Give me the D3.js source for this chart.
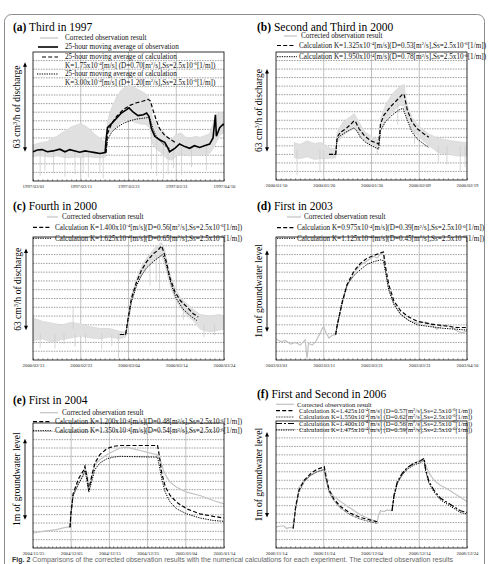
<!DOCTYPE html>
<html>
<head>
<meta charset="utf-8">
<script src="https://cdn.jsdelivr.net/npm/d3@7"></script>
<style>
  body { margin: 0; background: #fff; }
  svg { display: block; font-family: "Liberation Serif", "Times New Roman", serif; }
</style>
</head>
<body>
<svg id="fig" width="488" height="564"></svg>
<script>
// values are in grid divisions above the bottom frame, t in days after the first tick

// (a) Third in 1997
const aTicks = ["1997/03/01", "1997/03/11", "1997/03/21", "1997/03/31", "1997/04/10"];
const aObsBand = [[0,2.8,4.2],[1,2.9,4.4],[2,2.9,4.5],[3,2.8,4.6],[4,2.8,5.0],[5,2.9,5.2],[6,2.8,5.6],[7,2.7,5.9],[8,2.7,6.3],[9,2.8,6.5],[10,2.7,6.7],[11,2.8,6.4],[12,2.8,6.0],[13,2.7,5.4],[14,2.7,5.0],[15.2,2.8,4.5],[15.6,5.4,7.0],[16.5,5.8,8.6],[17.5,6.3,9.8],[18.5,6.8,10.6],[19.5,7.2,11.0],[20.5,7.0,11.1],[21.5,6.8,10.8],[22.5,6.6,10.5],[23.5,6.6,10.2],[24.4,6.2,9.6],[25.0,4.3,7.4],[26,3.6,6.4],[27,3.2,6.0],[28,2.6,5.2],[29,2.4,4.9],[30,2.9,5.4],[31,3.1,5.6],[32,3.0,5.1],[33,2.9,5.0],[34,3.0,5.2],[35,3.0,5.1],[36,3.1,5.3],[37,3.2,5.5],[37.8,3.8,6.8],[38.5,4.6,7.8],[39.2,5.4,8.0],[40,5.6,7.9]];
const aObsSpikes = [[1.5,0.6,3.5],[2.5,1.2,3.5],[4.3,0.9,3.5],[6.7,0.5,3.5],[8.8,0.8,3.5],[10.5,1.0,3.5],[11.6,0.4,3.5],[14.0,0.9,3.5],[14.7,0.3,3.5],[24.8,1.4,6],[25.9,0.6,5],[27.3,0.3,4.5],[28.3,0.8,4],[29.4,1.5,4],[31.1,0.7,4],[33.2,1.6,4],[36.3,1.2,4]];
const aObsAvg = [[0,3.4],[0.9,3.6],[1.9,3.65],[3.0,3.4],[4.2,3.5],[5.6,3.7],[6.7,3.4],[7.7,3.65],[8.8,3.5],[9.8,3.35],[10.9,3.5],[11.9,3.4],[13.0,3.3],[14.0,3.2],[15.1,3.3],[15.3,4.8],[15.6,6.2],[16.5,6.7],[17.5,7.3],[18.5,7.9],[19.6,8.3],[20.1,8.5],[21.0,8.0],[22.0,7.6],[23.1,7.7],[23.8,7.9],[24.3,7.5],[24.8,6.1],[25.5,5.2],[26.5,4.8],[27.6,4.5],[28.3,3.8],[28.6,3.4],[29.7,3.8],[30.7,4.3],[31.8,4.0],[32.8,3.8],[33.8,4.1],[34.9,3.9],[35.9,4.1],[37.0,4.3],[37.7,5.0],[38.2,7.7],[38.4,5.2],[39.1,6.2],[39.8,6.6],[40,6.5]];
const aCalc175 = [[15.3,3.3],[15.6,5.5],[16.5,6.7],[17.5,7.5],[18.9,8.3],[20.3,8.8],[21.7,9.1],[23.1,9.3],[24.1,9.5],[24.6,9.3],[25.1,8.3],[25.8,7.1],[26.5,6.1],[27.6,5.3],[28.6,4.9],[29.7,4.5]];
const aCalc300 = [[15.3,3.3],[15.6,4.8],[16.5,5.7],[17.5,6.2],[18.9,6.7],[20.3,7.0],[21.7,7.2],[23.1,7.3],[24.3,7.4],[24.6,7.1],[25.1,6.1],[25.8,5.2],[26.9,4.5],[27.9,4.0],[28.6,3.8]];

// (b) Second and Third in 2000
const bTicks = ["2000/01/10", "2000/01/20", "2000/01/30", "2000/02/09", "2000/02/19"];
const bObsBand = [[3.8,2.6,4.4],[5,2.5,4.2],[6.5,2.7,4.6],[8,2.4,4.3],[9.5,2.5,4.4],[11,2.5,3.8],[12.5,2.6,3.6],[12.8,4.4,5.6],[14,5.2,6.8],[15.5,5.8,7.4],[16.4,6.0,7.8],[17.4,5.4,6.8],[18.5,4.6,5.7],[20,4.0,5.1],[21.5,3.7,4.7],[21.9,5.8,7.2],[23,7.0,8.9],[24.5,8.0,10.2],[26,8.8,11.0],[26.8,8.6,11.2],[27.5,7.2,8.8],[28.5,5.8,7.3],[30,5.0,6.3],[32,4.0,5.4],[34,3.2,4.9],[36,3.0,4.7],[38,2.8,4.5],[40,2.8,4.4]];
const bObsSpikes = [[4.4,0.6,3.5],[9.2,0.9,3.5],[10.0,1.2,3.5],[21.2,3.0,4.5],[25.5,6.5,9],[29,4.2,6],[34,2.0,4],[35.8,1.8,4],[38.6,1.0,4],[39.6,1.5,4]];
const bCalc1325 = [[11.1,3.0],[12.5,3.0],[12.8,5.0],[13.5,5.6],[14.6,6.0],[15.6,6.5],[16.3,6.9],[16.6,6.9],[17.4,6.0],[18.5,5.2],[19.8,4.6],[21.2,4.3],[21.5,4.2],[21.9,6.6],[22.6,7.6],[24.0,8.6],[25.4,9.4],[26.4,10.0],[26.8,10.1],[27.5,8.2],[28.5,6.8],[29.6,6.0],[31.0,5.4],[32.0,5.0]];
const bCalc1950 = [[11.1,3.0],[12.5,3.0],[12.8,4.8],[13.5,5.2],[14.6,5.6],[15.6,5.9],[16.3,6.1],[16.9,5.8],[17.7,5.0],[18.8,4.4],[20.1,4.0],[21.5,3.6],[21.9,5.8],[22.9,6.8],[24.3,7.6],[25.7,8.2],[26.6,8.4],[27.5,7.0],[28.5,5.6],[29.6,4.8],[31.0,4.2],[32.0,3.8]];

// (c) Fourth in 2000
const cTicks = ["2000/02/13", "2000/02/23", "2000/03/04", "2000/03/14", "2000/03/24"];
const cObsBand = [[0,2.2,4.8],[2,2.4,4.4],[4,2.0,4.2],[6,2.3,4.0],[8,2.5,4.3],[10,2.7,4.1],[12,2.5,3.8],[14,2.4,3.6],[16,2.6,3.6],[18,2.4,3.3],[19.4,2.6,3.2],[20.0,4.0,5.2],[20.6,6.5,7.4],[21.7,8.4,9.3],[22.7,9.7,10.6],[23.8,10.6,11.6],[25.2,11.3,12.6],[26.2,11.6,13.1],[26.9,11.8,13.4],[27.5,11.0,12.8],[28.0,10.0,11.5],[28.7,8.5,9.8],[29.7,7.0,8.3],[30.8,6.0,7.2],[32,5.2,6.5],[33.5,4.5,5.8],[35,3.5,5.2],[37,3.2,5.0],[39,3.4,5.2],[40,3.5,5.0]];
const cObsSpikes = [[1.5,1.4,3],[4.6,1.3,3],[6.5,1.8,3],[8.4,3.5,6.1],[8.8,1.5,3],[11,2.0,3],[14.4,1.2,3],[16.5,1.6,3],[17.9,0.2,3],[24.5,8.5,11],[25.8,9.0,12],[26.5,7.8,12],[31.5,4.6,6],[35.8,2.6,4],[38,2.8,4]];
const cCalc1400 = [[18.2,2.9],[19.4,2.9],[19.9,4.7],[20.6,7.0],[21.7,8.9],[22.7,10.2],[23.8,11.2],[25.2,12.1],[26.2,12.5],[26.9,13.0],[27.4,12.3],[28.0,11.0],[28.7,9.3],[29.7,7.8],[30.8,6.8],[32.1,6.1],[33.5,5.3],[34.6,4.9]];
const cCalc1625 = [[18.2,2.9],[19.4,2.9],[19.9,4.5],[20.6,6.6],[21.7,8.5],[22.7,9.6],[23.8,10.5],[25.2,11.2],[26.6,11.8],[27.1,12.0],[27.6,11.5],[28.3,10.0],[29.0,8.5],[30.0,7.0],[31.4,5.8],[32.8,5.1],[34.3,4.5]];

// (d) First in 2003
const dTicks = ["2003/03/01", "2003/03/11", "2003/03/21", "2003/03/31", "2003/04/10"];
const dObs = [[0,2.4],[1.0,2.1],[2.0,2.2],[3.1,1.8],[4.1,2.0],[5.1,1.7],[6.1,2.3],[6.5,0.2],[6.8,1.9],[7.6,1.7],[8.3,2.1],[9.0,2.8],[9.7,3.6],[10.0,3.8],[10.4,3.2],[11.1,2.5],[11.8,2.8],[12.5,2.9],[12.8,3.8],[13.9,6.6],[14.9,8.4],[16.3,9.9],[17.7,10.8],[19.1,11.3],[20.5,11.8],[21.2,11.6],[21.9,12.1],[22.5,12.0],[22.9,10.3],[23.6,8.1],[24.7,6.4],[26.1,5.2],[27.8,4.5],[29.6,4.2],[31.3,4.3],[32.3,4.1],[33.7,3.5],[35.1,4.0],[36.4,3.9],[37.9,3.3],[38.9,3.1],[40,3.3]];
const dCalc0975 = [[12.5,2.9],[12.8,3.9],[13.9,6.6],[14.9,8.6],[16.3,10.1],[17.7,11.0],[19.1,11.6],[20.5,11.9],[21.9,12.2],[22.5,12.3],[22.9,10.7],[23.6,8.6],[24.7,6.7],[26.1,5.6],[27.8,4.9],[29.6,4.4],[32.3,4.1],[35.1,3.9],[37.9,3.7],[40,3.7]];
const dCalc1125 = [[12.5,2.9],[12.8,3.9],[13.9,6.8],[14.9,8.6],[16.3,9.6],[17.7,10.3],[19.1,10.9],[20.5,11.2],[21.9,11.4],[22.5,11.3],[22.9,10.1],[23.6,8.0],[24.7,6.3],[26.1,5.2],[27.8,4.5],[29.6,4.0],[32.3,3.8],[35.1,3.6],[37.9,3.5],[40,3.4]];

// (e) First in 2004
const eTicks = ["2004/11/25", "2004/12/05", "2004/12/15", "2004/12/25", "2005/01/04", "2005/01/14"];
const eObs = [[0,1.8],[2.6,2.0],[6.1,2.2],[8.8,2.5],[9.7,2.5],[9.9,4.0],[10.5,6.3],[11.9,7.7],[13.2,8.9],[13.6,9.6],[14.2,8.7],[14.7,7.3],[15.3,8.3],[16.2,10.0],[17.5,10.6],[19.3,11.2],[21.0,11.6],[22.8,12.0],[24.5,12.1],[26.3,11.9],[28.0,11.7],[29.8,11.5],[32.4,11.2],[33.3,10.6],[34.1,9.4],[35.0,8.5],[35.9,7.9],[37.6,7.3],[40.2,6.7],[43.7,6.3],[47.2,5.7],[50,5.3]];
const eCalc1200 = [[9.7,2.5],[9.9,4.0],[10.5,6.5],[11.9,8.3],[13.2,9.3],[13.6,9.8],[14.2,8.3],[14.6,6.9],[15.2,8.3],[16.2,10.2],[17.5,11.2],[19.3,11.9],[21.0,12.2],[22.8,12.3],[32.6,12.3],[33.1,11.0],[33.7,9.0],[34.6,7.4],[35.9,6.3],[37.6,5.5],[40.2,4.7],[43.7,4.1],[47.2,3.8],[50,3.6]];
const eCalc1350 = [[9.7,2.5],[9.9,4.0],[10.5,6.3],[11.9,7.7],[13.2,8.7],[13.6,9.3],[14.2,7.9],[14.6,6.7],[15.2,7.7],[16.2,9.4],[17.5,10.2],[19.3,10.7],[21.0,10.9],[22.8,11.0],[32.6,10.9],[33.1,9.8],[33.7,8.3],[34.6,6.7],[35.9,5.5],[37.6,4.7],[40.2,4.1],[43.7,3.6],[47.2,3.3],[50,3.2]];

// (f) First and Second in 2006
const fTicks = ["2006/11/14", "2006/11/24", "2006/12/04", "2006/12/14", "2006/12/24"];
const fObs = [[0,2.5],[1.0,2.6],[1.7,2.6],[2.2,2.3],[2.7,2.4],[3.6,2.4],[4.1,4.8],[4.8,7.1],[5.9,8.0],[7.3,8.6],[8.6,9.0],[9.7,9.2],[10.1,9.3],[10.4,8.2],[11.1,6.8],[12.1,6.1],[13.5,5.5],[15.6,4.7],[17.7,3.9],[19.8,3.4],[21.2,3.1],[21.5,3.9],[21.9,4.4],[22.6,4.3],[23.3,4.5],[24.3,4.4],[24.7,6.2],[25.4,7.8],[26.1,8.4],[27.5,9.5],[28.9,10.0],[30.3,10.4],[31.0,10.5],[31.3,9.9],[32.0,8.9],[33.1,8.0],[34.4,7.4],[35.8,7.0],[37.2,6.5],[38.6,6.0],[40,5.5]];
const fCalc1425 = [[3.6,2.3],[4.1,4.8],[4.8,6.8],[5.9,8.0],[7.3,8.8],[8.6,9.3],[9.7,9.5],[10.1,9.6],[10.4,8.7],[11.1,6.9],[12.1,5.8],[13.5,4.9],[15.6,4.1],[17.7,3.6],[19.8,3.3],[21.2,3.1]];
const fCalc1550 = [[3.6,2.3],[4.1,4.6],[4.8,6.6],[5.9,7.8],[7.3,8.6],[8.6,9.0],[9.7,9.2],[10.1,9.3],[10.4,8.4],[11.1,6.6],[12.1,5.6],[13.5,4.7],[15.6,3.9],[17.7,3.4],[19.8,3.1],[21.2,2.9]];
const fCalc1400 = [[24.3,4.4],[24.7,6.2],[25.4,7.8],[26.4,8.8],[27.5,9.5],[28.9,10.0],[30.3,10.3],[31.0,10.6],[31.3,9.4],[32.0,7.9],[33.1,6.8],[34.4,5.9],[35.8,5.4],[37.2,4.9],[38.6,4.4],[40,4.2]];
const fCalc1475 = [[24.3,4.4],[24.7,6.0],[25.4,7.6],[26.4,8.6],[27.5,9.3],[28.9,9.8],[30.3,10.1],[31.0,10.4],[31.3,9.2],[32.0,7.7],[33.1,6.6],[34.4,5.7],[35.8,5.2],[37.2,4.7],[38.6,4.2],[40,4.0]];

// --- drawing ---
const svg = d3.select("#fig");
const parse = d3.utcParse("%Y/%m/%d");
const fmt = d3.utcFormat("%Y/%m/%d");
const DAY = 864e5;
const SERIF = "'Liberation Serif', 'Times New Roman', serif";

const styles = {
  obs:     { stroke: "#c2c2c2", width: 1.2, dash: null },
  avg:     { stroke: "#000", width: 1.6, dash: null },
  dash:    { stroke: "#000", width: 1.2, dash: "4,2.2" },
  dot:     { stroke: "#000", width: 1.0, dash: "1.3,1.1" },
  fine:    { stroke: "#222", width: 0.9, dash: "0.9,0.7" },
  dashdot: { stroke: "#000", width: 1.2, dash: "6,2,2,2" }
};

const sup = (k, d) => `Calculation K=${k}x10^{-4}[m/s]${d}`;

const panels = [
  { id: "a", name: " Third in 1997", ticks: aTicks, box: [33, 52, 224, 181], n: 15, title: [13, 30.5],
    band: aObsBand, spikes: aObsSpikes,
    series: [[aObsAvg, "avg"], [aCalc175, "dash"], [aCalc300, "dot"]],
    ylab: "63 cm^{3}/h of discharge", arrow: [25, 3.4, 13.8],
    legend: [
      { s: "obs", y: 38, lx: [40, 58], tx: 65, text: ["Corrected observation result"] },
      { s: "avg", y: 47, lx: [38, 58], tx: 65, text: ["25-hour moving average of observation"] },
      { s: "dash", y: 57, lx: [42, 58], tx: 65, text: ["25-hour moving average of calculation", "K=1.75x10^{-4}[m/s] (D=0.70[m^{2}/s],Ss=2.5x10^{-6}[1/m])"] },
      { s: "dot", y: 74, lx: [37, 58], tx: 65, text: ["25-hour moving average of calculation", "K=3.00x10^{-4}[m/s] (D=1.20[m^{2}/s],Ss=2.5x10^{-6}[1/m])"] }
    ] },
  { id: "b", name: " Second and Third in 2000", ticks: bTicks, box: [276, 52, 467, 180], n: 15, title: [257, 30.5],
    band: bObsBand, spikes: bObsSpikes,
    series: [[bCalc1325, "dash"], [bCalc1950, "dot"]],
    ylab: "63 cm^{3}/h of discharge", arrow: [267, 3.3, 13.0],
    legend: [
      { s: "obs", y: 36, lx: [284, 297], tx: 301, text: ["Corrected observation result"] },
      { s: "dash", y: 45.5, lx: [277, 294], tx: 299, text: [sup("1.325", "(D=0.53[m^{2}/s],Ss=2.5x10^{-6}[1/m])")] },
      { s: "dot", y: 56.7, lx: [277, 297], tx: 299, text: [sup("1.950", "(D=0.78[m^{2}/s],Ss=2.5x10^{-6}[1/m])")] }
    ] },
  { id: "c", name: " Fourth in 2000", ticks: cTicks, box: [33, 237, 224, 360], n: 14, title: [13, 209.5],
    band: cObsBand, spikes: cObsSpikes,
    series: [[cCalc1400, "dash"], [cCalc1625, "dot"]],
    ylab: "63 cm^{3}/h of discharge", arrow: [26, 3.4, 12.7],
    legend: [
      { s: "obs", y: 217, lx: [47, 58], tx: 62, text: ["Corrected observation result"] },
      { s: "dash", y: 227.3, lx: [33, 50], tx: 55, text: [sup("1.400", "(D=0.56[m^{2}/s],Ss=2.5x10^{-6}[1/m])")] },
      { s: "dot", y: 238.3, lx: [33, 52], tx: 55, text: [sup("1.625", "(D=0.65[m^{2}/s],Ss=2.5x10^{-6}[1/m])")] }
    ] },
  { id: "d", name: " First in 2003", ticks: dTicks, box: [276, 237, 467, 360], n: 14, title: [257, 209.5],
    line: dObs,
    series: [[dCalc0975, "dash"], [dCalc1125, "dot"]],
    ylab: "1m of groundwater level", arrow: [267, 3.2, 12.5],
    legend: [
      { s: "obs", y: 217, lx: [287, 301], tx: 304, text: ["Corrected observation result"] },
      { s: "dash", y: 227.7, lx: [277, 294], tx: 297, text: [sup("0.975", "(D=0.39[m^{2}/s],Ss=2.5x10^{-6}[1/m])")] },
      { s: "dot", y: 238.3, lx: [277, 295], tx: 297, text: [sup("1.125", "(D=0.45[m^{2}/s],Ss=2.5x10^{-6}[1/m])")] }
    ] },
  { id: "e", name: " First in 2004", ticks: eTicks, box: [33, 423, 224, 548], n: 15, title: [13, 404],
    line: eObs,
    series: [[eCalc1200, "dash"], [eCalc1350, "dot"]],
    ylab: "1m of groundwater level", arrow: [25, 3.4, 13.1],
    legend: [
      { s: "obs", y: 412.7, lx: [40, 58], tx: 62, text: ["Corrected observation result"] },
      { s: "dash", y: 421.7, lx: [33, 50], tx: 55, text: [sup("1.200", "(D=0.48[m^{2}/s],Ss=2.5x10^{-6}[1/m])")] },
      { s: "dot", y: 430.7, lx: [33, 52], tx: 55, text: [sup("1.350", "(D=0.54[m^{2}/s],Ss=2.5x10^{-6}[1/m])")] }
    ] },
  { id: "f", name: " First and Second in 2006", ticks: fTicks, box: [276, 421, 467, 548], n: 15, title: [257, 398],
    line: fObs, legendSize: 6.6,
    series: [[fCalc1425, "dash"], [fCalc1550, "fine"], [fCalc1400, "dashdot"], [fCalc1475, "dot"]],
    ylab: "1m of groundwater level", arrow: [267, 3.6, 13.7],
    legend: [
      { s: "obs", y: 404.3, lx: [276, 294], tx: 297, text: ["Corrected observation result"] },
      { s: "dash", y: 410.6, lx: [276, 294], tx: 299, text: [sup("1.425", " (D=0.57[m^{2}/s],Ss=2.5x10^{-6}[1/m])")] },
      { s: "fine", y: 417, lx: [276, 294], tx: 299, text: [sup("1.550", " (D=0.62[m^{2}/s],Ss=2.5x10^{-6}[1/m])")] },
      { s: "dashdot", y: 423.5, lx: [276, 294], tx: 299, text: [sup("1.400", " (D=0.56[m^{2}/s],Ss=2.5x10^{-6}[1/m])")] },
      { s: "dot", y: 430, lx: [276, 294], tx: 299, text: [sup("1.475", " (D=0.59[m^{2}/s],Ss=2.5x10^{-6}[1/m])")] }
    ] }
];

// text with ^{...} superscripts
function rich(sel, str, shift) {
  const parts = str.split(/\^\{([^}]*)\}/);
  let up = false;
  parts.forEach((s, i) => {
    if (!s) return;
    const t = sel.append("tspan").text(s);
    if (i % 2 === 1) { t.attr("dy", -shift).style("font-size", "0.68em"); up = true; }
    else if (up) { t.attr("dy", shift); up = false; }
  });
}

function applyStyle(sel, key) {
  const s = styles[key];
  sel.attr("fill", "none").attr("stroke", s.stroke).attr("stroke-width", s.width)
    .attr("stroke-dasharray", s.dash);
}

// outer frame of the figure
svg.append("rect").attr("x", 4.5).attr("y", 14.5).attr("width", 480).attr("height", 600)
  .attr("rx", 7).attr("fill", "none").attr("stroke", "#8c8c8c").attr("stroke-width", 1);

panels.forEach(p => {
  const [x0, y0, x1, y1] = p.box;
  const ticks = p.ticks.map(parse);
  const t0 = ticks[0];
  const at = t => new Date(+t0 + t * DAY);
  const x = d3.scaleUtc().domain([t0, ticks[ticks.length - 1]]).range([x0, x1]);
  const y = d3.scaleLinear().domain([0, p.n]).range([y1, y0]);
  const g = svg.append("g").style("font-family", SERIF);

  g.append("clipPath").attr("id", "clip-" + p.id)
    .append("rect").attr("x", x0).attr("y", y0).attr("width", x1 - x0).attr("height", y1 - y0);

  // grid
  g.append("g").selectAll("line").data(d3.range(1, p.n)).join("line")
    .attr("x1", x0).attr("x2", x1).attr("y1", d => y(d)).attr("y2", d => y(d))
    .attr("stroke", "#3a3a3a").attr("stroke-width", 0.5).attr("stroke-dasharray", "1.5,1.1");
  g.append("g").selectAll("line").data(ticks.slice(1, -1)).join("line")
    .attr("x1", d => x(d)).attr("x2", d => x(d)).attr("y1", y0).attr("y2", y1)
    .attr("stroke", "#9a9a9a").attr("stroke-width", 0.6);

  const plot = g.append("g").attr("clip-path", `url(#clip-${p.id})`);

  if (p.band) {
    plot.append("path").datum(p.band)
      .attr("d", d3.area().x(d => x(at(d[0]))).y0(d => y(d[1])).y1(d => y(d[2])))
      .attr("fill", "#e0e0e0").attr("stroke", "#d0d0d0").attr("stroke-width", 0.5);
    plot.append("g").selectAll("line").data(p.spikes).join("line")
      .attr("x1", d => x(at(d[0]))).attr("x2", d => x(at(d[0])))
      .attr("y1", d => y(d[1])).attr("y2", d => y(d[2]))
      .attr("stroke", "#cdcdcd").attr("stroke-width", 0.8);
  }
  if (p.line) {
    plot.append("path").datum(p.line)
      .attr("d", d3.line().x(d => x(at(d[0]))).y(d => y(d[1])))
      .call(applyStyle, "obs");
  }
  const line = d3.line().x(d => x(at(d[0]))).y(d => y(d[1]));
  p.series.forEach(([data, key]) => {
    plot.append("path").datum(data).attr("d", line).call(applyStyle, key);
  });

  // frame
  g.append("rect").attr("x", x0).attr("y", y0).attr("width", x1 - x0).attr("height", y1 - y0)
    .attr("fill", "none").attr("stroke", "#000").attr("stroke-width", 0.8);

  // date axis
  const ax = g.append("g").attr("transform", `translate(0,${y1})`)
    .call(d3.axisBottom(x).tickValues(ticks).tickFormat(fmt).tickSize(0).tickPadding(3.5));
  ax.select(".domain").remove();
  ax.attr("font-family", null).style("font-family", SERIF);
  ax.selectAll("text").attr("font-size", 4.8).attr("fill", "#222");
  const minor = g.append("g").attr("transform", `translate(0,${y1})`)
    .call(d3.axisBottom(x).ticks(d3.utcDay.every(1)).tickSize(-1.8).tickFormat(""));
  minor.select(".domain").remove();
  minor.selectAll("line").attr("stroke-width", 0.4);

  // title
  const tt = g.append("text").attr("x", p.title[0]).attr("y", p.title[1])
    .style("font-family", SERIF).attr("font-size", 11.5);
  tt.append("tspan").attr("font-weight", "bold").text(`(${p.id})`);
  tt.append("tspan").text(p.name);

  // legend
  const fs = p.legendSize || 7.2;
  p.legend.forEach(L => {
    g.append("line").attr("x1", L.lx[0]).attr("x2", L.lx[1]).attr("y1", L.y).attr("y2", L.y)
      .call(applyStyle, L.s);
    L.text.forEach((s, i) => {
      const t = g.append("text").attr("x", L.tx).attr("y", L.y + 2.3 + i * 8.5)
        .attr("font-size", fs).attr("fill", "#111");
      rich(t, s, 2.4);
    });
  });

  // y label with double arrow
  const [axX, aLo, aHi] = p.arrow;
  const ya = y(aLo), yb = y(aHi);
  g.append("line").attr("x1", axX).attr("x2", axX).attr("y1", yb + 3).attr("y2", ya - 3)
    .attr("stroke", "#000").attr("stroke-width", 0.9);
  g.append("path").attr("d", `M${axX},${yb}l-2,4.5h4z M${axX},${ya}l-2,-4.5h4z`).attr("fill", "#000");
  const yl = g.append("text")
    .attr("transform", `translate(${axX - 5},${(ya + yb) / 2}) rotate(-90)`)
    .attr("text-anchor", "middle").attr("font-size", 9.5);
  rich(yl, p.ylab, 3);
});

// caption, right at the bottom edge as in the source figure
const cap = svg.append("text").attr("x", 12).attr("y", 562.3)
  .attr("font-family", "Liberation Sans, Arial, sans-serif").attr("font-size", 7).attr("fill", "#666");
cap.append("tspan").attr("font-weight", "bold").attr("fill", "#333").text("Fig. 2");
cap.append("tspan").text(" Comparisons of the corrected observation results with the numerical calculations for each experiment. The corrected observation results");
</script>
</body>
</html>
